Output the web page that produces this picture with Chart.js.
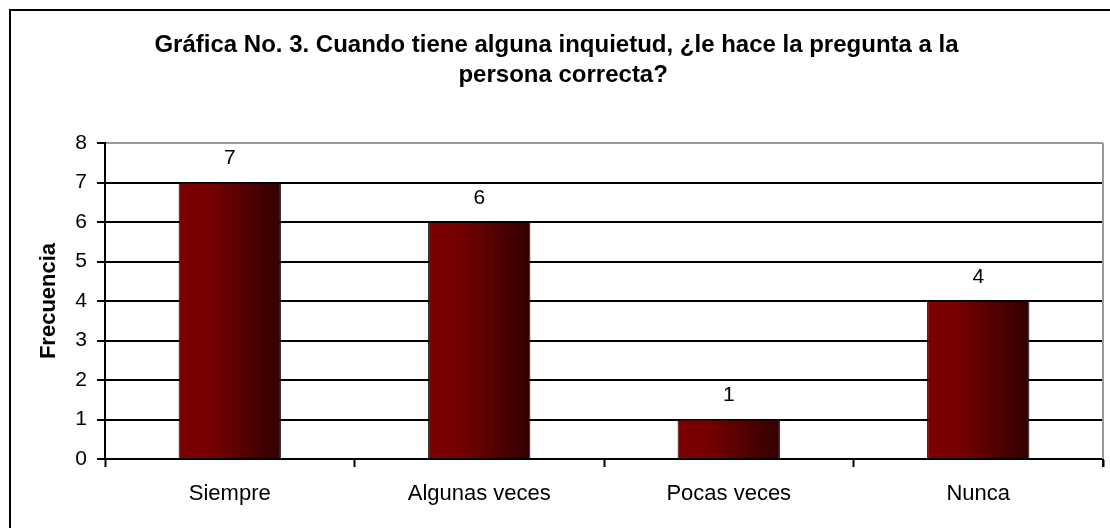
<!DOCTYPE html>
<html>
<head>
<meta charset="utf-8">
<script src="https://cdn.jsdelivr.net/npm/chart.js@4/dist/chart.umd.min.js"></script>
<style>
  body { margin: 0; background: #fff; }
  #chart { display: block; }
</style>
</head>
<body>
<canvas id="chart" width="1110" height="528"></canvas>
<script>
const categories = ["Siempre", "Algunas veces", "Pocas veces", "Nunca"];
const frecuencia = [7, 6, 1, 4];
const titleLines = ["Gráfica No. 3. Cuando tiene alguna inquietud, ¿le hace la pregunta a la", "  persona correcta?"];
const yTitle = "Frecuencia";

const FONT = "'Liberation Sans', Arial, sans-serif";
const BAR_PCT = 0.41;

// gradient for each bar, from dark red to almost black
function barGradient(context) {
  const chart = context.chart;
  const x = chart.scales.x;
  if (!chart.chartArea || !x || context.dataIndex === undefined) return "#780000";
  const cx = x.getPixelForValue(context.dataIndex);
  const w = (x.width / categories.length) * BAR_PCT;
  const g = chart.ctx.createLinearGradient(cx - w / 2, 0, cx + w / 2, 0);
  g.addColorStop(0, "#7c0000");
  g.addColorStop(0.3, "#760000");
  g.addColorStop(1, "#320000");
  return g;
}

// outer frame + gray right border of the plot
const framePlugin = {
  id: "frame",
  beforeDraw(chart) {
    const c = chart.ctx;
    c.save();
    c.fillStyle = "#fff";
    c.fillRect(0, 0, chart.width, chart.height);
    c.strokeStyle = "#000";
    c.lineWidth = 2;
    c.strokeRect(10, 10, chart.width + 10, chart.height + 10);
    c.restore();
  },
  afterDatasetsDraw(chart) {
    const c = chart.ctx;
    const a = chart.chartArea;
    c.save();
    c.strokeStyle = "#999";
    c.lineWidth = 2;
    c.beginPath();
    c.moveTo(a.right, a.top);
    c.lineTo(a.right, a.bottom);
    c.stroke();
    c.strokeStyle = "#000";
    c.beginPath();
    c.moveTo(a.right, a.bottom);
    c.lineTo(a.right, a.bottom + 8);
    c.stroke();
    c.restore();
  }
};

// value labels above bars
const valueLabels = {
  id: "valueLabels",
  afterDatasetsDraw(chart) {
    const c = chart.ctx;
    const meta = chart.getDatasetMeta(0);
    c.save();
    c.font = "21px " + FONT;
    c.fillStyle = "#000";
    c.textAlign = "center";
    c.textBaseline = "middle";
    meta.data.forEach((bar, i) => {
      c.fillText(String(frecuencia[i]), bar.x, bar.y - 24);
    });
    c.restore();
  }
};

new Chart(document.getElementById("chart"), {
  type: "bar",
  data: {
    labels: categories,
    datasets: [{
      label: yTitle,
      data: frecuencia,
      backgroundColor: barGradient,
      borderColor: "#000",
      borderWidth: 1,
      categoryPercentage: 1,
      barPercentage: BAR_PCT
    }]
  },
  options: {
    responsive: false,
    animation: false,
    layout: { padding: { top: 10, left: 10, right: 7, bottom: 0 } },
    plugins: {
      legend: { display: false },
      tooltip: { enabled: false },
      title: {
        display: true,
        text: titleLines,
        color: "#000",
        font: { family: FONT, size: 24, weight: "bold", lineHeight: 1.25 },
        padding: { top: 20, bottom: 53 }
      }
    },
    scales: {
      x: {
        afterFit(scale) { scale.height = 69; },
        grid: {
          offset: true,
          drawOnChartArea: false,
          drawTicks: true,
          tickLength: 8,
          tickColor: "#000",
          tickWidth: 2
        },
        border: { display: true, color: "#000", width: 2 },
        ticks: { color: "#000", font: { family: FONT, size: 22 }, padding: 14 }
      },
      y: {
        min: 0,
        max: 8,
        afterFit(scale) { scale.width = 95; },
        grid: {
          color: (ctx) => (ctx.tick && ctx.tick.value === 8 ? "#999" : "#000"),
          lineWidth: 2,
          tickLength: 8,
          tickColor: "#000",
          tickWidth: 2
        },
        border: { display: true, color: "#000", width: 2 },
        ticks: { stepSize: 1, color: "#000", font: { family: FONT, size: 21 }, padding: 10 },
        title: {
          display: true,
          text: yTitle,
          color: "#000",
          font: { family: FONT, size: 22, weight: "bold" },
          padding: { top: 26, bottom: 0 }
        }
      }
    }
  },
  plugins: [framePlugin, valueLabels]
});
</script>
</body>
</html>
